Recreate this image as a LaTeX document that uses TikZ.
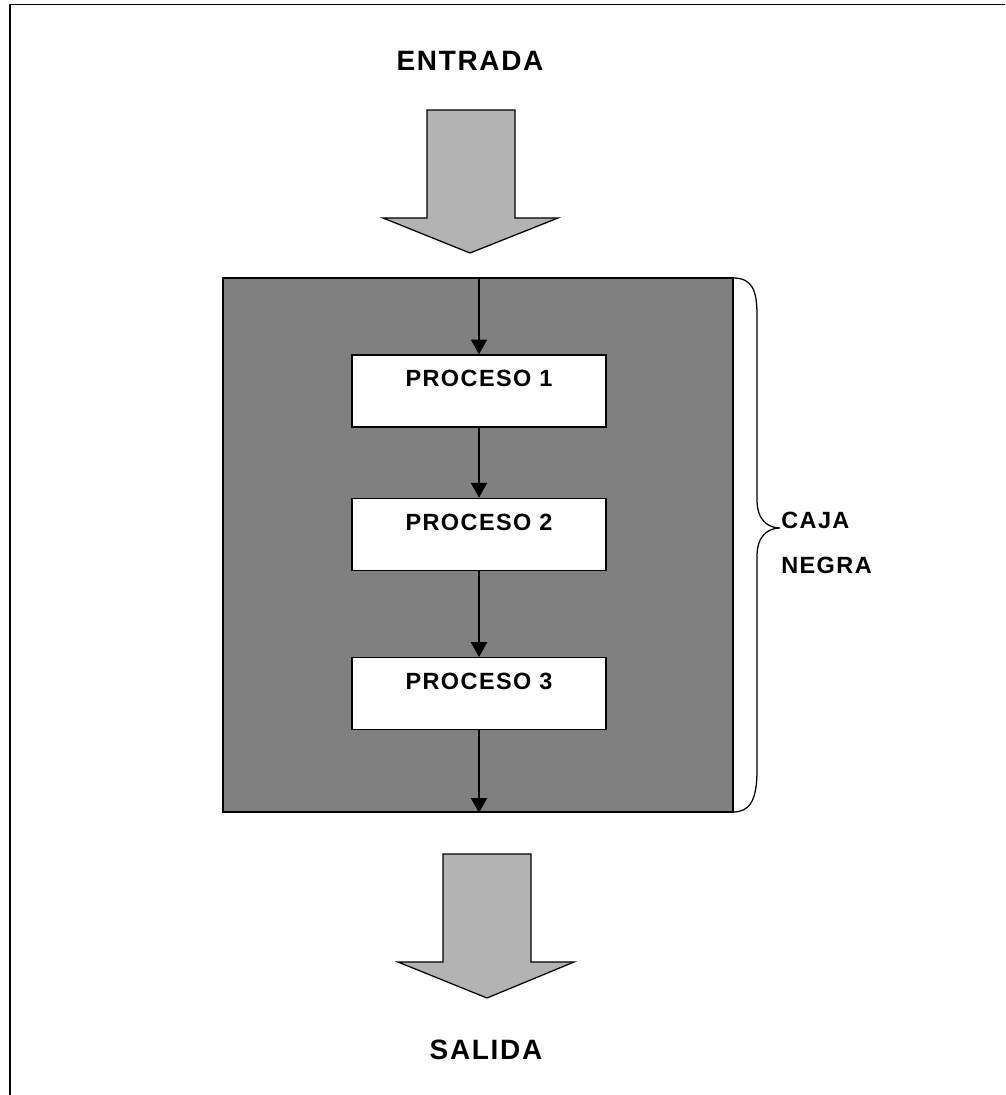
\documentclass[tikz,border=0pt]{standalone}
\usepackage{fontspec}
\usepackage{tikz}
\usetikzlibrary{arrows.meta, positioning}
\usepackage{xcolor}
\newfontfamily\labelfont[LetterSpace=6]{Liberation Sans}
\definecolor{boxgray}{HTML}{808080}
\definecolor{arrowgray}{HTML}{B3B3B3}
\begin{document}
\begin{tikzpicture}[
  x=0.025cm, y=-0.025cm,
  proc/.style={draw, fill=white, line width=0.9pt, minimum width=6.35cm,
               inner sep=0pt, text height=0.8cm, text depth=1cm,
               font=\labelfont\bfseries\fontsize{16.7}{20}\selectfont},
  bigtext/.style={inner sep=0pt, font=\labelfont\bfseries\fontsize{19.9}{24}\selectfont},
  bigarrow/.style={draw, fill=arrowgray, line width=0.9pt},
  flow/.style={-{Triangle[length=10.5pt, width=11.5pt]}, line width=0.9pt},
  >=Stealth, node distance=1.75cm
]
  \useasboundingbox (0,0) rectangle (1005,1095);
  % frame
  \draw[line width=1.4pt] (10,1095) -- (10,4.5) -- (1005,4.5);

  \node[bigtext] (in) at (470,61) {ENTRADA};
  \draw[bigarrow] (427,110) -- (515,110) -- (515,218) -- (558,218) -- (470,253)
                  -- (383,218) -- (427,218) -- cycle;

  \node[draw, fill=boxgray, line width=1pt, minimum width=12.75cm,
        minimum height=13.35cm, inner sep=0pt] (negra) at (478,545) {};

  \node[proc] (p1) at (479,391) {PROCESO 1};
  \node[proc, below=1.75cm of p1] (p2) {PROCESO 2};
  \node[proc, below=2.15cm of p2] (p3) {PROCESO 3};

  \draw[flow] (p1.north |- negra.north) -- (p1.north);
  \draw[flow] (p1) -- (p2);
  \draw[flow] (p2) -- (p3);
  \draw[flow] (p3.south) -- (p3.south |- negra.south);

  % brace
  \draw[line width=0.9pt] (733,278) .. controls (752,278) and (757,290) .. (757,315)
    -- (757,500) .. controls (757,520) and (768,528) .. (780,528)
    .. controls (768,528) and (757,536) .. (757,556)
    -- (757,770) .. controls (757,800) and (750,812) .. (733,812);
  \node[anchor=north west, inner sep=0pt, align=left,
        font=\labelfont\bfseries\fontsize{16.7}{32}\selectfont] (caja) at (781,512) {CAJA\\NEGRA};

  \draw[bigarrow] (443,854) -- (531,854) -- (531,962) -- (574,962) -- (487,998)
                  -- (398,962) -- (443,962) -- cycle;
  \node[bigtext] (out) at (486,1050) {SALIDA};
\end{tikzpicture}
\end{document}
